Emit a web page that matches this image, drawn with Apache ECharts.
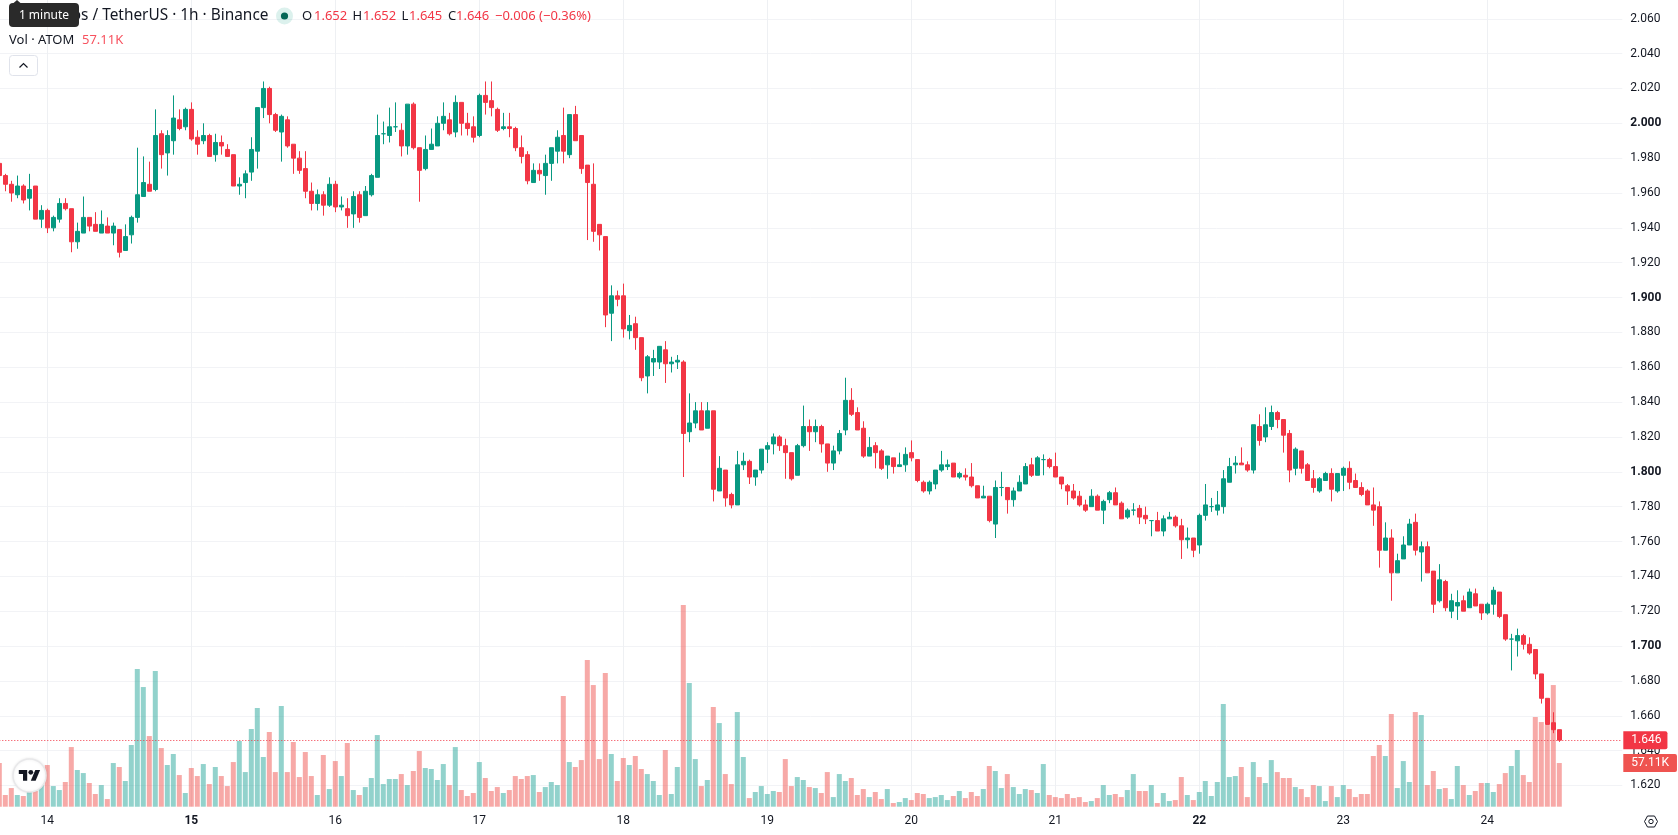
<!DOCTYPE html>
<html>
<head>
<meta charset="utf-8">
<title>ATOM / USDT 1h</title>
<script src="https://cdn.jsdelivr.net/npm/echarts@6/dist/echarts.min.js"></script>
<style>
html,body{margin:0;padding:0;background:#fff;overflow:hidden}
#chart{width:1678px;height:835px}
</style>
</head>
<body>
<div id="chart"></div>
<script>
// Hourly ATOM/USDT candles, oldest first.
const opens = [
1.977,1.970,1.965,1.959,1.964,1.957,1.964,1.945,1.950,1.940,
1.945,1.954,1.951,1.932,1.937,1.946,1.942,1.937,1.941,1.937,
1.939,1.927,1.936,1.946,1.958,1.965,1.962,1.994,1.983,1.990,
2.002,1.998,2.008,1.992,1.990,1.993,1.982,1.989,1.985,1.982,
1.964,1.966,1.972,1.984,2.009,2.020,2.005,1.995,2.002,1.988,
1.980,1.974,1.961,1.954,1.959,1.953,1.965,1.952,1.951,1.948,
1.959,1.947,1.959,1.969,1.994,1.993,1.998,1.996,1.987,2.011,
1.986,1.974,1.985,1.987,2.000,2.002,1.995,2.012,2.000,1.998,
1.993,2.016,2.013,2.008,1.997,1.998,1.997,1.986,1.982,1.966,
1.973,1.970,1.977,1.984,1.993,1.982,2.005,1.993,1.976,1.965,
1.942,1.935,1.891,1.901,1.901,1.881,1.885,1.877,1.855,1.863,
1.863,1.870,1.862,1.863,1.863,1.823,1.828,1.835,1.825,1.835,
1.789,1.801,1.787,1.781,1.804,1.806,1.797,1.801,1.813,1.816,
1.820,1.815,1.811,1.798,1.815,1.826,1.823,1.826,1.816,1.805,
1.812,1.824,1.841,1.834,1.825,1.809,1.815,1.812,1.804,1.808,
1.803,1.804,1.811,1.807,1.794,1.789,1.793,1.801,1.803,1.805,
1.797,1.798,1.797,1.792,1.785,1.786,1.770,1.791,1.791,1.784,
1.789,1.793,1.804,1.798,1.807,1.807,1.803,1.797,1.792,1.789,
1.786,1.781,1.780,1.786,1.778,1.784,1.788,1.782,1.774,1.778,
1.779,1.775,1.772,1.772,1.766,1.773,1.774,1.769,1.761,1.762,
1.758,1.775,1.780,1.778,1.780,1.794,1.804,1.805,1.804,1.801,
1.826,1.820,1.826,1.834,1.830,1.822,1.802,1.812,1.804,1.796,
1.789,1.795,1.799,1.789,1.798,1.802,1.795,1.791,1.789,1.781,
1.780,1.755,1.762,1.742,1.750,1.758,1.771,1.754,1.757,1.743,
1.726,1.737,1.720,1.723,1.726,1.722,1.730,1.724,1.719,1.724,
1.731,1.718,1.704,1.703,1.706,1.701,1.698,1.684,1.670,1.656,1.652];
const closes = [
1.970,1.965,1.960,1.964,1.956,1.962,1.945,1.950,1.940,1.946,
1.954,1.951,1.932,1.938,1.946,1.941,1.938,1.942,1.937,1.941,
1.926,1.935,1.946,1.959,1.966,1.961,1.993,1.982,1.993,2.003,
1.997,2.008,1.991,1.988,1.993,1.981,1.989,1.987,1.981,1.964,
1.965,1.971,1.985,2.009,2.020,2.005,1.996,2.004,1.987,1.980,
1.973,1.961,1.954,1.959,1.953,1.965,1.952,1.953,1.947,1.958,
1.946,1.961,1.970,1.993,1.994,1.998,1.998,1.987,2.011,1.986,
1.973,1.985,1.988,2.000,2.004,1.994,2.012,2.000,1.997,1.992,
2.016,2.012,2.009,1.996,1.998,1.997,1.986,1.981,1.967,1.973,
1.971,1.977,1.986,1.992,1.984,2.005,1.990,1.974,1.966,1.938,
1.936,1.890,1.901,1.899,1.882,1.884,1.877,1.854,1.866,1.865,
1.872,1.862,1.863,1.864,1.822,1.828,1.835,1.824,1.835,1.790,
1.802,1.785,1.781,1.804,1.806,1.797,1.801,1.813,1.815,1.820,
1.815,1.811,1.796,1.815,1.826,1.823,1.826,1.816,1.805,1.812,
1.822,1.841,1.833,1.824,1.809,1.814,1.811,1.802,1.809,1.803,
1.804,1.810,1.808,1.795,1.789,1.794,1.801,1.804,1.804,1.797,
1.799,1.797,1.792,1.785,1.786,1.772,1.791,1.791,1.784,1.789,
1.794,1.803,1.798,1.808,1.807,1.803,1.797,1.793,1.789,1.785,
1.781,1.778,1.786,1.778,1.783,1.788,1.781,1.773,1.778,1.778,
1.774,1.773,1.772,1.766,1.773,1.774,1.769,1.761,1.762,1.755,
1.775,1.781,1.780,1.781,1.796,1.803,1.805,1.804,1.801,1.827,
1.818,1.827,1.834,1.830,1.821,1.801,1.813,1.802,1.795,1.791,
1.796,1.799,1.790,1.799,1.802,1.794,1.791,1.787,1.781,1.778,
1.755,1.762,1.742,1.749,1.758,1.770,1.755,1.757,1.742,1.724,
1.738,1.722,1.726,1.725,1.720,1.731,1.723,1.719,1.724,1.732,
1.717,1.704,1.704,1.706,1.701,1.696,1.684,1.670,1.655,1.652,1.646];
const lows = [
1.970,1.961,1.955,1.957,1.954,1.950,1.945,1.940,1.937,1.938,
1.943,1.950,1.926,1.928,1.937,1.938,1.938,1.937,1.937,1.930,
1.923,1.927,1.931,1.943,1.958,1.961,1.961,1.974,1.970,1.982,
1.996,1.996,1.990,1.982,1.988,1.981,1.978,1.982,1.981,1.964,
1.959,1.957,1.967,1.974,2.003,2.000,1.995,1.978,1.986,1.971,
1.971,1.957,1.950,1.950,1.947,1.952,1.949,1.950,1.940,1.940,
1.943,1.947,1.958,1.969,1.988,1.989,1.995,1.981,1.982,1.985,
1.955,1.973,1.985,1.987,1.996,1.993,1.992,1.993,1.993,1.989,
1.992,2.005,2.004,1.995,1.996,1.992,1.984,1.977,1.965,1.966,
1.967,1.959,1.967,1.977,1.977,1.980,1.990,1.971,1.933,1.932,
1.927,1.883,1.875,1.895,1.877,1.876,1.870,1.852,1.845,1.855,
1.859,1.851,1.857,1.859,1.797,1.817,1.825,1.824,1.825,1.783,
1.789,1.780,1.779,1.781,1.801,1.793,1.792,1.799,1.805,1.810,
1.812,1.796,1.795,1.798,1.814,1.812,1.817,1.811,1.800,1.801,
1.810,1.821,1.832,1.824,1.808,1.809,1.802,1.801,1.796,1.799,
1.803,1.800,1.806,1.794,1.788,1.787,1.790,1.800,1.801,1.797,
1.796,1.795,1.791,1.785,1.785,1.771,1.762,1.786,1.776,1.780,
1.789,1.793,1.797,1.798,1.798,1.802,1.797,1.790,1.781,1.784,
1.780,1.777,1.780,1.778,1.770,1.782,1.781,1.773,1.773,1.775,
1.770,1.770,1.763,1.766,1.763,1.773,1.768,1.750,1.756,1.751,
1.753,1.772,1.777,1.775,1.776,1.794,1.799,1.804,1.800,1.799,
1.815,1.817,1.824,1.825,1.811,1.794,1.798,1.799,1.795,1.788,
1.788,1.795,1.783,1.788,1.789,1.790,1.791,1.786,1.781,1.769,
1.745,1.755,1.726,1.742,1.750,1.758,1.752,1.737,1.742,1.719,
1.725,1.720,1.716,1.715,1.720,1.722,1.723,1.715,1.718,1.718,
1.716,1.703,1.686,1.694,1.698,1.695,1.681,1.667,1.655,1.650,1.645];
const highs = [
1.977,1.971,1.967,1.970,1.965,1.971,1.964,1.953,1.951,1.947,
1.957,1.957,1.951,1.943,1.958,1.946,1.949,1.950,1.946,1.943,
1.939,1.942,1.947,1.986,1.981,1.978,2.008,1.996,1.996,2.016,
2.008,2.009,2.012,1.996,2.000,1.994,1.994,1.993,1.988,1.982,
1.969,1.973,1.992,2.009,2.024,2.021,2.006,2.005,2.004,1.988,
1.984,1.984,1.966,1.962,1.961,1.969,1.967,1.958,1.957,1.961,
1.961,1.964,1.971,2.005,2.001,2.009,2.012,2.000,2.011,2.012,
1.986,1.993,1.997,2.004,2.012,2.006,2.016,2.012,2.006,2.004,
2.017,2.024,2.024,2.009,2.006,2.006,1.998,1.993,1.984,1.977,
1.977,1.982,1.986,1.996,2.009,2.005,2.010,1.993,1.976,1.977,
1.942,1.935,1.907,1.904,1.908,1.890,1.889,1.877,1.867,1.870,
1.872,1.875,1.866,1.867,1.864,1.845,1.840,1.840,1.840,1.835,
1.809,1.801,1.788,1.812,1.811,1.807,1.801,1.813,1.817,1.822,
1.821,1.819,1.811,1.816,1.838,1.830,1.830,1.827,1.816,1.815,
1.824,1.854,1.848,1.837,1.829,1.820,1.817,1.813,1.809,1.808,
1.811,1.814,1.818,1.807,1.795,1.795,1.801,1.812,1.807,1.805,
1.800,1.802,1.805,1.792,1.792,1.786,1.795,1.800,1.791,1.791,
1.798,1.805,1.808,1.809,1.810,1.808,1.811,1.797,1.793,1.793,
1.789,1.784,1.790,1.787,1.784,1.789,1.791,1.783,1.779,1.782,
1.781,1.780,1.772,1.777,1.775,1.777,1.775,1.773,1.768,1.762,
1.776,1.793,1.785,1.789,1.801,1.808,1.809,1.814,1.806,1.827,
1.833,1.837,1.838,1.835,1.830,1.824,1.814,1.812,1.805,1.801,
1.797,1.800,1.802,1.799,1.803,1.806,1.799,1.794,1.790,1.791,
1.783,1.771,1.767,1.753,1.763,1.773,1.776,1.760,1.760,1.743,
1.747,1.738,1.730,1.732,1.729,1.733,1.733,1.724,1.725,1.734,
1.731,1.718,1.707,1.710,1.707,1.705,1.698,1.684,1.670,1.662,1.652];
// Hourly traded volume, thousands of ATOM.
const volumes = [
57.1,15.3,24.4,15.3,14.0,19.2,20.5,30.5,54.5,27.0,
21.8,32.3,78.0,48.0,44.0,31.0,16.6,28.3,10.0,57.1,
51.9,33.6,80.7,180.1,156.5,92.4,177.5,76.7,54.5,68.9,
41.4,17.9,50.6,40.1,55.8,29.6,51.9,40.1,27.0,58.4,
85.9,45.3,101.6,129.1,65.0,97.7,45.3,131.7,45.3,84.6,
38.8,71.5,40.1,15.3,67.6,23.1,59.7,40.1,83.3,21.8,
15.3,25.7,37.5,93.7,29.6,36.2,36.2,42.7,28.3,46.7,
72.8,50.6,49.3,34.9,55.8,28.3,78.0,21.8,14.0,17.9,
58.4,37.5,20.5,25.7,17.9,21.8,40.1,36.2,40.1,41.4,
19.2,25.7,32.3,28.3,144.8,58.4,51.9,61.0,191.8,159.1,
62.3,174.8,68.9,33.6,63.7,54.5,66.3,49.3,42.7,33.6,
15.3,74.1,16.6,51.9,263.8,161.8,62.3,27.0,34.9,130.4,
109.4,42.7,29.6,123.8,65.0,11.3,19.2,27.0,16.6,20.5,
19.2,62.3,27.0,38.8,34.9,25.7,24.4,17.9,45.3,12.6,
42.7,33.6,37.5,15.3,23.1,12.6,19.2,10.0,23.1,4.8,
6.1,11.3,8.7,17.9,16.6,11.3,12.6,15.3,8.7,14.0,
20.5,11.3,19.2,14.0,23.1,53.2,46.7,24.4,42.7,25.7,
16.6,23.1,21.8,17.9,55.8,15.3,12.6,11.3,16.6,11.3,
12.6,6.1,7.4,11.3,28.3,15.3,16.6,12.6,21.8,42.7,
20.5,20.5,28.3,4.8,17.9,7.4,8.7,38.8,15.3,8.7,
19.2,33.6,14.0,32.3,134.3,38.8,40.1,51.9,12.6,58.4,
38.8,31.0,61.0,45.3,37.5,37.5,25.7,23.1,12.6,28.3,
27.0,7.4,27.0,12.6,28.3,23.1,12.6,16.6,16.6,66.3,
80.7,66.3,121.2,24.4,59.7,32.3,123.8,119.9,28.3,46.7,
23.1,24.4,10.0,53.2,28.3,15.3,20.5,31.0,31.0,19.2,
29.6,44.0,53.2,74.1,41.4,32.3,117.3,110.7,106.8,159.1,57.11];

// Day-of-month captions under the time axis; the first midnight is the ninth candle.
const dayLabels = ['14','15','16','17','18','19','20','21','22','23','24'];
const boldDays = ['15','22'];
const firstMidnight = 8;
const hoursPerDay = 24;
const emptySlots = 10;   // free hours to the right of the newest candle
const boldPrices = ['2.000','1.900','1.800','1.700'];

const UP = '#089981', DOWN = '#F23645';
const UP_VOL = 'rgba(38,166,154,0.5)', DOWN_VOL = 'rgba(239,83,80,0.5)';
const FONT = 'Roboto, "Noto Sans", sans-serif';
const UI_FONT = '"Noto Sans", Roboto, sans-serif';

const slotCount = opens.length + emptySlots;
const slots = Array.from({length: slotCount}, (_, i) => {
  const k = i - firstMidnight;
  return k >= 0 && k % hoursPerDay === 0 ? dayLabels[k / hoursPerDay] || '' : '';
});
const isMidnightTick = i => (i - firstMidnight) % hoursPerDay === 0 && i >= firstMidnight;

const candles = opens.map((o, i) => [o, closes[i], lows[i], highs[i]]);
const volumeBars = volumes.map((v, i) => ({
  value: v,
  itemStyle: {color: closes[i] >= opens[i] ? UP_VOL : DOWN_VOL}
}));

const lastClose = closes[closes.length - 1];
const lastVolume = volumes[volumes.length - 1];

// Plot geometry: 6px per hour, price scale 1742.5px per unit.
const gridLeft = -3.7, gridWidth = 1626, plotBottom = 806.7;

function label(text, x, y, fill, size, z, align) {
  return {
    type: 'text', z: z || 50, silent: true,
    style: {text, x, y, fill, font: `${size}px ${UI_FONT}`, verticalAlign: 'middle', align: align || 'left'}
  };
}

const logoMark = {x: 18.8, y: 767.5, scaleX: 0.6, scaleY: 0.6, z: 51, silent: true};

const chart = echarts.init(document.getElementById('chart'), null, {renderer: 'canvas'});
chart.setOption({
  animation: false,
  backgroundColor: '#ffffff',
  grid: [
    {left: gridLeft, width: gridWidth, top: -16.1, height: 836.4, outerBoundsMode: 'none'},
    {left: gridLeft, width: gridWidth, top: 0, height: plotBottom, outerBoundsMode: 'none'}
  ],
  xAxis: [
    {type: 'category', gridIndex: 0, data: slots, show: false},
    {
      type: 'category', gridIndex: 1, data: slots,
      axisLine: {show: false}, axisTick: {show: false},
      axisLabel: {
        interval: isMidnightTick, margin: 8, hideOverlap: false,
        color: '#131722', fontFamily: FONT, fontSize: 12,
        formatter: v => boldDays.includes(v) ? `{b|${v}}` : v,
        rich: {b: {fontWeight: 700, fontSize: 12, fontFamily: FONT, color: '#131722'}}
      },
      splitLine: {
        show: true, alignWithLabel: true, interval: isMidnightTick,
        lineStyle: {color: '#eef0f3', width: 1}
      }
    }
  ],
  yAxis: [
    {
      type: 'value', gridIndex: 0, position: 'right',
      min: 1.6, max: 2.08, interval: 0.02,
      axisLine: {show: false}, axisTick: {show: false},
      splitLine: {show: true, showMinLine: false, showMaxLine: false, lineStyle: {color: '#f2f3f6', width: 1}},
      axisLabel: {
        showMinLabel: false, showMaxLabel: false, margin: 8,
        color: '#131722', fontFamily: FONT, fontSize: 12,
        formatter: v => {
          const s = v.toFixed(3);
          return boldPrices.includes(s) ? `{b|${s}}` : s;
        },
        rich: {b: {fontWeight: 700, fontSize: 12, fontFamily: FONT, color: '#131722'}}
      }
    },
    {
      type: 'value', gridIndex: 1, show: false, min: 0, max: 1055,
      splitLine: {show: false}
    }
  ],
  series: [
    {
      type: 'bar', name: 'Vol', xAxisIndex: 1, yAxisIndex: 1,
      data: volumeBars, barWidth: 5, z: 2, silent: true,
      markLine: {
        silent: true, symbol: 'none', animation: false, precision: 3,
        lineStyle: {width: 0, color: 'rgba(0,0,0,0)'},
        data: [{yAxis: lastVolume}],
        label: {
          position: 'end', distance: 1, formatter: lastVolume.toFixed(2) + 'K',
          color: '#fff', backgroundColor: '#EF5350',
          fontFamily: FONT, fontSize: 12, padding: [3, 8, 3, 8], borderRadius: [0, 2, 2, 0]
        }
      }
    },
    {
      type: 'candlestick', name: 'ATOMUSDT', xAxisIndex: 0, yAxisIndex: 0,
      data: candles, barWidth: 4, z: 3, silent: true,
      itemStyle: {
        color: UP, color0: DOWN, borderColor: UP, borderColor0: DOWN,
        borderColorDoji: UP, borderWidth: 1
      },
      markLine: {
        silent: true, symbol: 'none', animation: false, precision: 3,
        lineStyle: {color: DOWN, type: [1, 2], width: 1},
        data: [{yAxis: lastClose}],
        label: {
          position: 'end', distance: 1, formatter: lastClose.toFixed(3),
          color: '#fff', backgroundColor: DOWN,
          fontFamily: FONT, fontSize: 12, padding: [3, 6, 3, 8], borderRadius: [0, 2, 2, 0]
        }
      }
    }
  ],
  graphic: {elements: [
    // Symbol header
    label('Cosmos / TetherUS · 1h · Binance', 31, 16, '#131722', 15.4),
    {type: 'circle', z: 50, silent: true, shape: {cx: 284.5, cy: 16, r: 8.5}, style: {fill: 'rgba(8,153,129,0.14)'}},
    {type: 'circle', z: 51, silent: true, shape: {cx: 284.5, cy: 16, r: 3.6}, style: {fill: '#056656'}},
    label('O', 302, 16, '#131722', 13),
    label('1.652', 314, 16, DOWN, 13),
    label('H', 352.5, 16, '#131722', 13),
    label('1.652', 363, 16, DOWN, 13),
    label('L', 401.5, 16, '#131722', 13),
    label('1.645', 409, 16, DOWN, 13),
    label('C', 448, 16, '#131722', 13),
    label('1.646', 456, 16, DOWN, 13),
    label('−0.006 (−0.36%)', 495, 16, DOWN, 13),
    label('Vol · ATOM', 9, 40.5, '#131722', 13),
    label('57.11K', 82, 40.5, '#F7525F', 13),
    // Collapse button
    {type: 'rect', z: 50, silent: true, shape: {x: 9.5, y: 55.5, width: 28, height: 20, r: 3},
      style: {fill: '#fff', stroke: '#e0e3eb', lineWidth: 1}},
    {type: 'polyline', z: 51, silent: true, shape: {points: [[19.5, 67.5], [23.5, 63.5], [27.5, 67.5]]},
      style: {fill: null, stroke: '#131722', lineWidth: 1.2}},
    // Hover hint over the header
    {type: 'polygon', z: 60, silent: true, shape: {points: [[13, 3.5], [17, 0], [21, 3.5]]}, style: {fill: '#2a2a2a'}},
    {type: 'rect', z: 60, silent: true, shape: {x: 9, y: 3, width: 70, height: 24, r: 4}, style: {fill: '#2a2a2a'}},
    label('1 minute', 44, 15.5, '#ffffff', 12, 61, 'center'),
    // Attribution badge
    {type: 'circle', z: 50, silent: true, shape: {cx: 29.5, cy: 775.5, r: 16.5},
      style: {fill: '#fff', stroke: '#e8e8ea', lineWidth: 1.5, shadowBlur: 3, shadowColor: 'rgba(0,0,0,0.08)'}},
    Object.assign({type: 'polygon', shape: {points: [[0, 4], [14, 4], [14, 22], [7, 22], [7, 11], [0, 11]]}, style: {fill: '#131722'}}, logoMark),
    Object.assign({type: 'polygon', shape: {points: [[28, 22], [20, 22], [27.5, 4], [35.5, 4]]}, style: {fill: '#131722'}}, logoMark),
    Object.assign({type: 'circle', shape: {cx: 20, cy: 8, r: 4}, style: {fill: '#131722'}}, logoMark),
    // Scale settings button
    {type: 'polygon', z: 50, silent: true,
      shape: {points: [[1644.5, 821.5], [1647.5, 816], [1654.5, 816], [1657.5, 821.5], [1654.5, 827], [1647.5, 827]]},
      style: {fill: 'none', stroke: '#131722', lineWidth: 1}},
    {type: 'circle', z: 50, silent: true, shape: {cx: 1651, cy: 821.5, r: 2.2},
      style: {fill: 'none', stroke: '#131722', lineWidth: 1}}
  ]}
});
</script>
</body>
</html>
